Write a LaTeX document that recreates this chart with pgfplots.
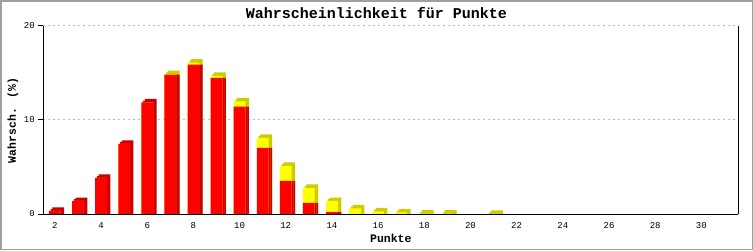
\documentclass[border=0pt]{standalone}
\usepackage{fontspec}
\setmainfont{Liberation Mono}
\usepackage{pgfplots}
\usepackage{pgfplotstable}
\pgfplotsset{compat=1.18}
\definecolor{barred}{RGB}{255,0,0}
\definecolor{darkred}{RGB}{204,0,0}
\definecolor{baryel}{RGB}{255,255,0}
\definecolor{darkyel}{RGB}{204,204,0}
\definecolor{gridgray}{RGB}{190,190,190}
\definecolor{framegray}{RGB}{160,160,160}
% red = front red part, tot = red + yellow;
% mred/mtot and sred/stot = heights of the 3D side/top faces (half and full depth)
\pgfplotstableread{
x   red    tot    mred   mtot   sred   stot
2   0.32   0.32   0.51   0      0.69   0
3   1.38   1.38   1.57   0      1.75   0
4   3.83   3.83   4.02   0      4.20   0
5   7.45   7.45   7.64   0      7.82   0
6   11.84  11.84  12.03  0      12.21  0
7   14.80  14.85  14.80  15.04  14.80  15.22
8   15.85  16.06  15.85  16.25  15.85  16.43
9   14.45  14.65  14.45  14.84  14.45  15.02
10  11.38  11.95  11.38  12.14  11.38  12.32
11  7.02   8.09   7.02   8.28   7.02   8.46
12  3.51   5.11   3.51   5.30   3.51   5.48
13  1.17   2.77   1.17   2.96   1.17   3.14
14  0.21   1.38   0.21   1.57   0.21   1.75
15  0      0.59   0      0.78   0      0.96
16  0      0.27   0      0.46   0      0.64
17  0      0.16   0      0.35   0      0.53
18  0      0.04   0      0.23   0      0.41
19  0      0.03   0      0.22   0      0.40
21  0      0.02   0      0.21   0      0.39
}\bars
\begin{document}
\begin{tikzpicture}[x=1pt,y=1pt]
\useasboundingbox (0,0) rectangle (753,250);
\fill[white] (0,0) rectangle (753,250);
\begin{axis}[
  at={(43.3pt,36pt)}, anchor=south west,
  scale only axis, width=695pt, height=188.5pt,
  xmin=1.5, xmax=31.6, ymin=0, ymax=20,
  axis x line=bottom, axis y line=box,
  x axis line style={-, black, line width=1pt},
  y axis line style={-, black, line width=1pt},
  xtick={2,4,...,30}, ytick={0,10,20},
  ymajorgrids, grid style={gridgray, dash pattern=on 2pt off 3pt, line width=1pt},
  tick align=outside, ytick pos=left, major tick length=5pt,
  xtick style={draw=none}, ytick style={black, line width=1pt},
  /pgf/number format/assume math mode=true,
  tick label style={font=\fontsize{9}{10}\selectfont},
]
% 3D faces, full depth
\addplot[ybar, bar width=11.7pt, bar shift=3.5pt, fill=darkyel, draw=none] table[x=x,y=stot]{\bars};
\addplot[ybar, bar width=11.7pt, bar shift=3.5pt, fill=darkred, draw=none] table[x=x,y=sred]{\bars};
% 3D faces, half depth
\addplot[ybar, bar width=11.7pt, bar shift=1.75pt, fill=darkyel, draw=none] table[x=x,y=mtot]{\bars};
\addplot[ybar, bar width=11.7pt, bar shift=1.75pt, fill=darkred, draw=none] table[x=x,y=mred]{\bars};
% front faces
\addplot[ybar, bar width=11.7pt, bar shift=0pt, fill=baryel, draw=none] table[x=x,y=tot]{\bars};
\addplot[ybar, bar width=11.7pt, bar shift=0pt, fill=barred, draw=none] table[x=x,y=red]{\bars};
\addplot[black, line width=1pt, mark=none] coordinates {(1.5,0) (31.6,0)};
\end{axis}
\node[anchor=base, font=\bfseries\fontsize{15}{18}\selectfont] at (376.5,231.7) {Wahrscheinlichkeit für Punkte};
\node[rotate=90, anchor=base, font=\bfseries\fontsize{11.5}{13}\selectfont] at (15.8,129.5) {Wahrsch. (\%)};
\node[anchor=base, font=\bfseries\fontsize{11.5}{13}\selectfont] at (390.8,7.5) {Punkte};
\draw[framegray, line width=1.5pt] (0.75,0.75) rectangle (752.25,249.25);
\end{tikzpicture}
\end{document}
